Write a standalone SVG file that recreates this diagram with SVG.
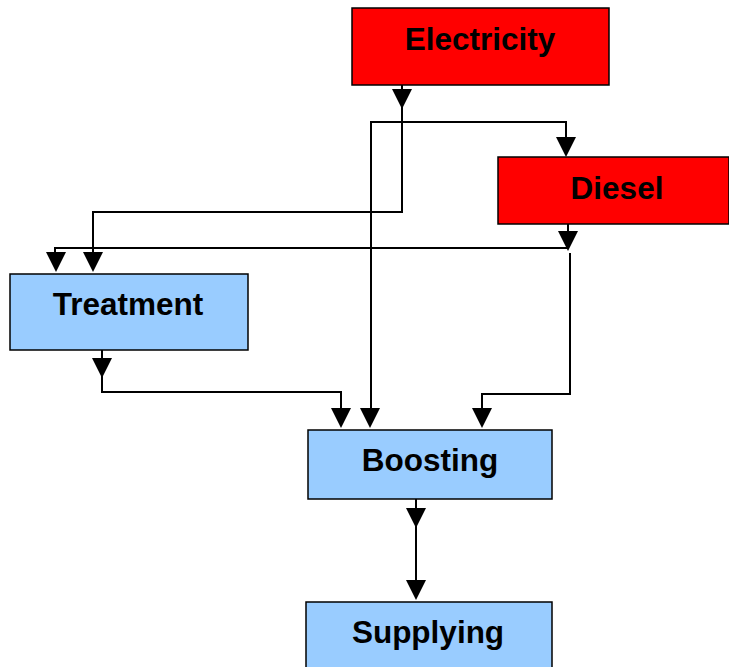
<svg xmlns="http://www.w3.org/2000/svg" xmlns:xlink="http://www.w3.org/1999/xlink" width="729" height="667" viewBox="0 0 729 667">
  <style>
    .box { stroke: #000; stroke-width: 1.5; }
    .red { fill: #FF0000; }
    .blue { fill: #99CCFF; }
    .label { font-family: "Liberation Sans", Arial, sans-serif; font-weight: bold; font-size: 31.5px; fill: #000; text-anchor: middle; }
    .wire { fill: none; stroke: #000; stroke-width: 2; }
  </style>
  <defs>
    <!-- downward arrowhead, tip at (0,20) -->
    <path id="ah" d="M-10,0 L10,0 L0,20 Z" fill="#000"/>
  </defs>

  <rect width="729" height="667" fill="#fff"/>

  <g id="electricity">
    <rect class="box red" x="352" y="8" width="257" height="77"/>
    <text class="label" x="480" y="50">Electricity</text>
  </g>

  <g id="diesel">
    <rect class="box red" x="498" y="157" width="231" height="67"/>
    <text class="label" x="617" y="199">Diesel</text>
  </g>

  <g id="treatment">
    <rect class="box blue" x="10" y="274" width="238" height="76"/>
    <text class="label" x="128" y="315">Treatment</text>
  </g>

  <g id="boosting">
    <rect class="box blue" x="308" y="430" width="244" height="69"/>
    <text class="label" x="430" y="471">Boosting</text>
  </g>

  <g id="supplying">
    <rect class="box blue" x="306" y="602" width="246" height="70"/>
    <text class="label" x="428" y="643">Supplying</text>
  </g>

  <g id="connectors">
    <!-- Electricity outputs -->
    <path class="wire" d="M402,85 V108 V212 H93 V252"/>
    <use xlink:href="#ah" x="402" y="89"/>
    <use xlink:href="#ah" x="93" y="252"/>
    <path class="wire" d="M371,408 V122 H566 V138"/>
    <use xlink:href="#ah" x="566" y="137"/>
    <use xlink:href="#ah" x="370" y="408"/>

    <!-- Diesel outputs -->
    <path class="wire" d="M568,224 V248 H55 V252"/>
    <use xlink:href="#ah" x="568" y="231"/>
    <use xlink:href="#ah" x="56" y="252"/>
    <path class="wire" d="M570,253 V394 H482 V408"/>
    <use xlink:href="#ah" x="482" y="408"/>

    <!-- Treatment to Boosting -->
    <path class="wire" d="M102,350 V392 H341 V408"/>
    <use xlink:href="#ah" x="102" y="358"/>
    <use xlink:href="#ah" x="341" y="408"/>

    <!-- Boosting to Supplying -->
    <path class="wire" d="M416,499 V580"/>
    <use xlink:href="#ah" x="416" y="508"/>
    <use xlink:href="#ah" x="416" y="580"/>
  </g>
</svg>
